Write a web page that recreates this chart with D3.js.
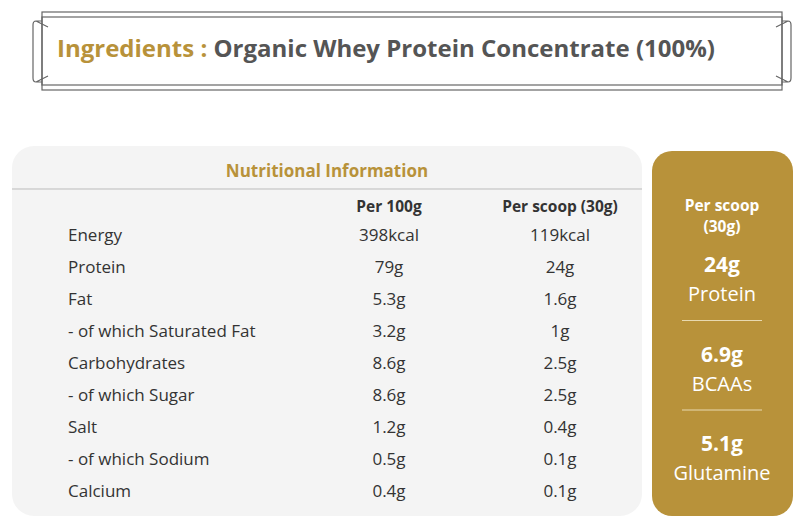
<!DOCTYPE html>
<html><head><meta charset="utf-8">
<script src="https://cdn.jsdelivr.net/npm/d3@7"></script>
<style>body{margin:0;background:#fff}svg{font-family:"Open Sans","Noto Sans",sans-serif}</style>
</head><body><svg id="c" width="800" height="530"></svg>
<script>
const nutrients = ['Energy','Protein','Fat','- of which Saturated Fat','Carbohydrates','- of which Sugar','Salt','- of which Sodium','Calcium'];
const per100g = ['398kcal','79g','5.3g','3.2g','8.6g','8.6g','1.2g','0.5g','0.4g'];
const perScoop = ['119kcal','24g','1.6g','1g','2.5g','2.5g','0.4g','0.1g','0.1g'];
const columns = ['Per 100g','Per scoop (30g)'];
const highlightValues = ['24g','6.9g','5.1g'];
const highlightNames = ['Protein','BCAAs','Glutamine'];

const GOLD = '#b8923a', GREY = '#555', TXT = '#333';
const svg = d3.select('#c');

// header frame
const f = svg.append('g').attr('fill','none').attr('stroke','#666').attr('stroke-width',1.2);
f.append('rect').attr('x',42).attr('y',12).attr('width',740).attr('height',78);
f.append('rect').attr('x',42).attr('y',17).attr('width',740).attr('height',68);
f.append('path').attr('d','M42,21 L36,21 Q33,21 33,25 L33,78 Q33,82 36,82 L42,82 M36,21 L48,27 M36,82 L48,76');
f.append('path').attr('d','M782,21 L788,21 Q791,21 791,25 L791,78 Q791,82 788,82 L782,82 M788,21 L776,27 M788,82 L776,76');
const t = svg.append('text').attr('x',57).attr('y',57).attr('font-size',24).attr('font-weight',700);
t.append('tspan').attr('fill',GOLD).text('Ingredients : ');
t.append('tspan').attr('fill',GREY).text('Organic Whey Protein Concentrate (100%)');

// left table
svg.append('rect').attr('x',12).attr('y',146).attr('width',630).attr('height',370).attr('rx',22).attr('fill','#f4f4f4');
svg.append('text').attr('x',327).attr('y',177).attr('text-anchor','middle').attr('font-size',17).attr('font-weight',700).attr('fill',GOLD).text('Nutritional Information');
svg.append('line').attr('x1',12).attr('x2',642).attr('y1',189).attr('y2',189).attr('stroke','#bbb');

const x = d3.scaleOrdinal().domain(columns).range([389,560]);
svg.selectAll('.hd').data(columns).join('text').attr('x',d=>x(d)).attr('y',212)
  .attr('text-anchor','middle').attr('font-size',15.5).attr('font-weight',700).attr('fill',TXT).text(d=>d);

const y = d3.scalePoint().domain(nutrients).range([235,491]);
const rows = svg.selectAll('.row').data(nutrients).join('g').attr('transform',d=>`translate(0,${y(d)+6})`)
  .attr('font-size',17).attr('fill',TXT);
rows.append('text').attr('x',68).text(d=>d);
rows.append('text').attr('x',x(columns[0])).attr('text-anchor','middle').text((d,i)=>per100g[i]);
rows.append('text').attr('x',x(columns[1])).attr('text-anchor','middle').text((d,i)=>perScoop[i]);

// right highlight panel
svg.append('rect').attr('x',652).attr('y',151).attr('width',141).attr('height',365).attr('rx',20).attr('fill',GOLD);
const cx = 722;
svg.append('text').attr('x',cx).attr('y',211).attr('text-anchor','middle').attr('fill','#fff').attr('font-size',15.5).attr('font-weight',700).text('Per scoop');
svg.append('text').attr('x',cx).attr('y',232).attr('text-anchor','middle').attr('fill','#fff').attr('font-size',15.5).attr('font-weight',700).text('(30g)');
const hy = d3.scalePoint().domain(highlightNames).range([264,443]);
const hg = svg.selectAll('.hl').data(highlightNames).join('g').attr('fill','#fff').attr('text-anchor','middle');
hg.append('text').attr('x',cx).attr('y',d=>hy(d)+8).attr('font-size',21).attr('font-weight',700).text((d,i)=>highlightValues[i]);
hg.append('text').attr('x',cx).attr('y',d=>hy(d)+37).attr('font-size',20).text(d=>d);
svg.selectAll('.sep').data(highlightNames.slice(1)).join('line')
  .attr('x1',682).attr('x2',762).attr('y1',d=>hy(d)-33).attr('y2',d=>hy(d)-33)
  .attr('stroke','#e8d9b0').attr('stroke-width',1);
</script></body></html>
